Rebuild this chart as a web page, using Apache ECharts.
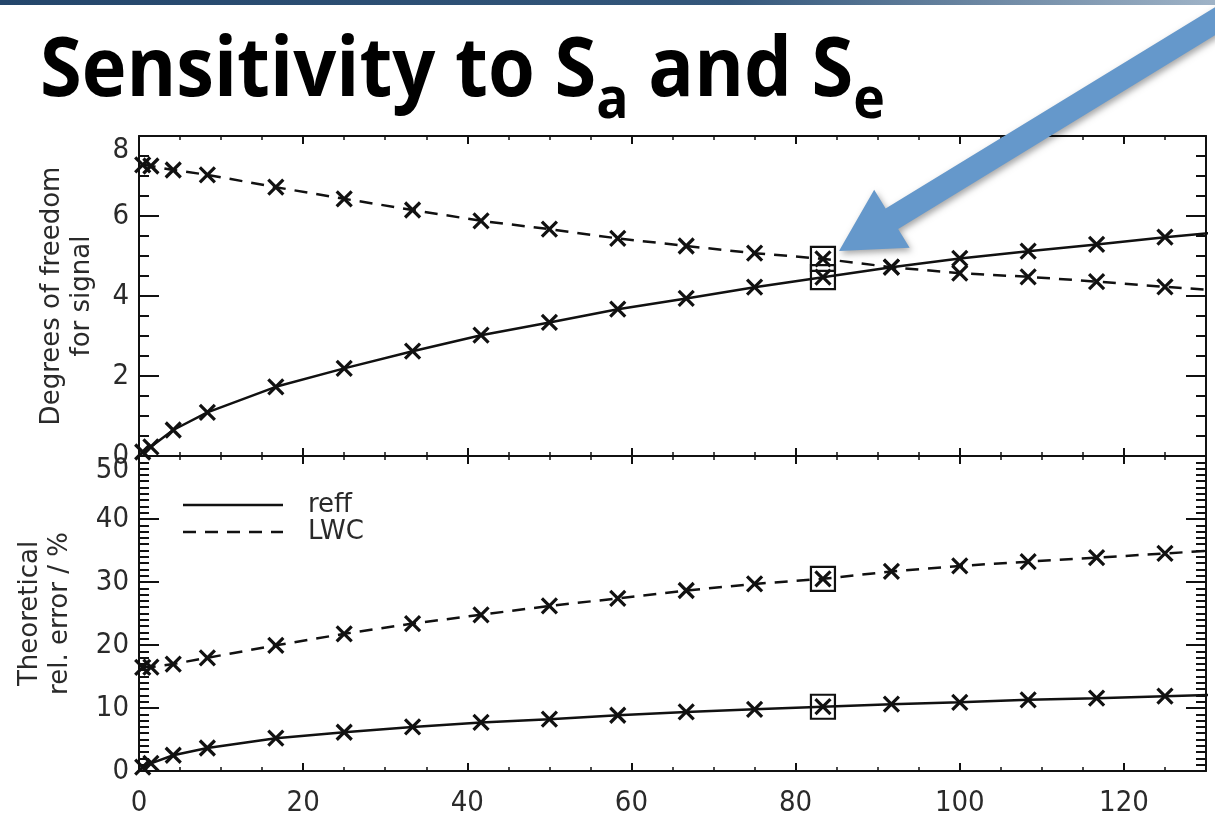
<!DOCTYPE html>
<html>
<head>
<meta charset="utf-8">
<script src="https://cdn.jsdelivr.net/npm/echarts@6/dist/echarts.min.js"></script>
<style>
  html, body { margin: 0; padding: 0; background: #ffffff; }
  #chart { width: 1215px; height: 818px; }
</style>
</head>
<body>
<div id="chart"></div>
<script>
// Scaling factor applied to the a-priori covariance (x axis)
const sampleX = [0.45, 1.45, 4.17, 8.33, 16.67, 25, 33.33, 41.67, 50, 58.33, 66.67, 75, 83.33, 91.67, 100, 108.33, 116.67, 125, 133.33];
// Degrees of freedom for signal
const reffDof = [0.1, 0.23, 0.65, 1.09, 1.73, 2.19, 2.62, 3.02, 3.34, 3.67, 3.94, 4.22, 4.47, 4.72, 4.94, 5.12, 5.29, 5.47, 5.63];
const lwcDof  = [7.28, 7.25, 7.15, 7.03, 6.72, 6.43, 6.15, 5.88, 5.67, 5.44, 5.25, 5.07, 4.93, 4.72, 4.57, 4.48, 4.36, 4.23, 4.11];
// Theoretical relative error in percent
const reffErr = [0.6, 1.2, 2.5, 3.65, 5.2, 6.15, 7.0, 7.7, 8.23, 8.85, 9.38, 9.8, 10.2, 10.6, 10.9, 11.3, 11.55, 11.88, 12.15];
const lwcErr  = [16.45, 16.5, 16.98, 17.97, 19.95, 21.77, 23.4, 24.8, 26.2, 27.4, 28.65, 29.7, 30.5, 31.67, 32.55, 33.23, 33.86, 34.53, 35.2];
// Configuration picked for the retrieval (boxed)
const selectedIndex = 12;

const seriesNames = ['reff', 'LWC'];
const titleParts = ['Sensitivity to S', 'a', ' and S', 'e'];
const dofAxisName = 'Degrees of freedom\nfor signal';
const errAxisName = 'Theoretical\nrel. error / %';

const axisFont = '"DejaVu Sans Condensed", "DejaVu Sans", sans-serif';
const nameFont = '"DejaVu Sans", sans-serif';
const ink = '#111111';
const crossSymbol = 'path://M0,0L10,10M10,0L0,10';

const chart = echarts.init(document.getElementById('chart'), null, { renderer: 'canvas' });

function pairs(ys) { return sampleX.map((x, i) => [x, ys[i]]); }

function xAxisCfg(gridIndex, position, showLabels) {
  return {
    type: 'value', gridIndex, position, min: 0, max: 130, interval: 20,
    axisLine: { show: true, onZero: false, lineStyle: { color: ink, width: 2 } },
    axisTick: { show: true, inside: true, length: 8, lineStyle: { color: ink, width: 2 } },
    minorTick: { show: true, splitNumber: 4, length: 4, lineStyle: { color: ink, width: 1.5 } },
    splitLine: { show: false },
    axisLabel: { show: showLabels, margin: 18, fontSize: 29, fontFamily: axisFont, color: '#2a2a2a',
      showMaxLabel: false }
  };
}

function yAxisCfg(gridIndex, position, max, interval, minorSplit, showLabels, name, nameGap) {
  return {
    type: 'value', gridIndex, position, min: 0, max, interval,
    name: showLabels ? name : '', nameLocation: 'middle', nameRotate: 90, nameGap,
    nameTextStyle: { fontSize: 26, lineHeight: 30, fontFamily: nameFont, color: '#2a2a2a' },
    axisLine: { show: true, onZero: false, lineStyle: { color: ink, width: 2 } },
    axisTick: { show: true, inside: true, length: 20, lineStyle: { color: ink, width: 2 } },
    minorTick: { show: true, splitNumber: minorSplit, length: 10, lineStyle: { color: ink, width: 2 } },
    splitLine: { show: false },
    axisLabel: { show: showLabels, margin: 10, fontSize: 29, fontFamily: axisFont, color: '#2a2a2a',
      verticalAlignMaxLabel: 'top' }
  };
}

function lineSeries(name, ys, xi, yi, dashed) {
  return {
    name, type: 'line', xAxisIndex: xi, yAxisIndex: yi,
    data: pairs(ys),
    showAllSymbol: true,
    symbol: crossSymbol, symbolSize: 15,
    itemStyle: { color: 'rgba(0,0,0,0)', borderColor: ink, borderWidth: 3.2 },
    lineStyle: { color: ink, width: 2.5, type: dashed ? [13, 9] : 'solid' },
    clip: true,
    emphasis: { disabled: true },
    markPoint: {
      symbol: 'rect', symbolSize: 24, silent: true,
      itemStyle: { color: 'rgba(0,0,0,0)', borderColor: ink, borderWidth: 2.2 },
      label: { show: false },
      data: [{ coord: [sampleX[selectedIndex], ys[selectedIndex]] }]
    }
  };
}

// Title with subscripts, laid out from measured text widths
const mainSize = 82, subSize = 58;
const mainFont = 'bold ' + mainSize + 'px "Open Sans"';
const subFont = 'bold ' + subSize + 'px "Open Sans"';
const ctx = document.createElement('canvas').getContext('2d');
function measure(t, f) { ctx.font = f; return ctx.measureText(t).width; }
const partFonts = [mainFont, subFont, mainFont, subFont];
const partWidths = titleParts.map((t, i) => measure(t, partFonts[i]));
const naturalWidth = partWidths.reduce((a, b) => a + b, 0);
const titleScale = 845 / naturalWidth;
// baseline offsets measured from the top of each text box
const mainAscent = mainSize * 0.78, subAscent = subSize * 0.78;
const subDrop = 22;
let cursor = 0;
const titleChildren = titleParts.map((t, i) => {
  const isSub = i % 2 === 1;
  const el = {
    type: 'text', x: cursor,
    y: isSub ? (mainAscent + subDrop - subAscent) : 0,
    style: { text: t, font: partFonts[i], fill: '#000', verticalAlign: 'top' }
  };
  cursor += partWidths[i];
  return el;
});

// Blue call-out arrow
const tail = [1240, 6], tip = [839, 251];
const len = Math.hypot(tip[0] - tail[0], tip[1] - tail[1]);
const d = [(tip[0] - tail[0]) / len, (tip[1] - tail[1]) / len];
const n = [-d[1], d[0]];
const headLen = 62, shaftHalf = 12, headHalf = 34;
const base = [tip[0] - d[0] * headLen, tip[1] - d[1] * headLen];
const arrowPts = [
  [tail[0] + n[0] * shaftHalf, tail[1] + n[1] * shaftHalf],
  [base[0] + n[0] * shaftHalf, base[1] + n[1] * shaftHalf],
  [base[0] + n[0] * headHalf, base[1] + n[1] * headHalf],
  tip,
  [base[0] - n[0] * headHalf, base[1] - n[1] * headHalf],
  [base[0] - n[0] * shaftHalf, base[1] - n[1] * shaftHalf],
  [tail[0] - n[0] * shaftHalf, tail[1] - n[1] * shaftHalf]
];

const legendX = 183, legendY = [505, 532];

const option = {
  backgroundColor: '#ffffff',
  animation: false,
  grid: [
    { left: 139, top: 136, width: 1067, height: 320 },
    { left: 139, top: 456, width: 1067, height: 320 }
  ],
  xAxis: [
    xAxisCfg(0, 'bottom', false),
    xAxisCfg(0, 'top', false),
    xAxisCfg(1, 'bottom', true),
    xAxisCfg(1, 'top', false)
  ],
  yAxis: [
    yAxisCfg(0, 'left', 8, 2, 4, true, dofAxisName, 42),
    yAxisCfg(0, 'right', 8, 2, 4, false, '', 0),
    yAxisCfg(1, 'left', 50, 10, 10, true, errAxisName, 64),
    yAxisCfg(1, 'right', 50, 10, 10, false, '', 0)
  ],
  series: [
    lineSeries(seriesNames[0], reffDof, 0, 0, false),
    lineSeries(seriesNames[1], lwcDof, 0, 0, true),
    lineSeries(seriesNames[0] + ' error', reffErr, 2, 2, false),
    lineSeries(seriesNames[1] + ' error', lwcErr, 2, 2, true)
  ],
  graphic: [
    {
      type: 'rect', left: 0, top: 0, z: 10,
      shape: { x: 0, y: 0, width: 1215, height: 5 },
      style: {
        fill: new echarts.graphic.LinearGradient(0, 0, 1, 0, [
          { offset: 0, color: '#24466b' },
          { offset: 0.6, color: '#34577b' },
          { offset: 1, color: '#9fb3c7' }
        ])
      }
    },
    {
      type: 'group', x: 40, y: 96 - mainAscent, scaleX: titleScale, z: 10,
      children: titleChildren
    },
    {
      type: 'polygon', z: 20,
      shape: { points: arrowPts },
      style: { fill: '#6598cb', shadowBlur: 6, shadowColor: 'rgba(0,0,0,0.35)', shadowOffsetX: 2, shadowOffsetY: 3 }
    },
    {
      type: 'line', z: 10,
      shape: { x1: legendX, y1: legendY[0], x2: legendX + 100, y2: legendY[0] },
      style: { stroke: ink, lineWidth: 2.5 }
    },
    {
      type: 'line', z: 10,
      shape: { x1: legendX, y1: legendY[1], x2: legendX + 100, y2: legendY[1] },
      style: { stroke: ink, lineWidth: 2.5, lineDash: [13, 9] }
    },
    {
      type: 'text', z: 10, x: legendX + 125, y: legendY[0],
      style: { text: seriesNames[0], font: '26px ' + nameFont, fill: '#2a2a2a', verticalAlign: 'middle' }
    },
    {
      type: 'text', z: 10, x: legendX + 125, y: legendY[1],
      style: { text: seriesNames[1], font: '26px ' + nameFont, fill: '#2a2a2a', verticalAlign: 'middle' }
    }
  ]
};

chart.setOption(option);
</script>
</body>
</html>
